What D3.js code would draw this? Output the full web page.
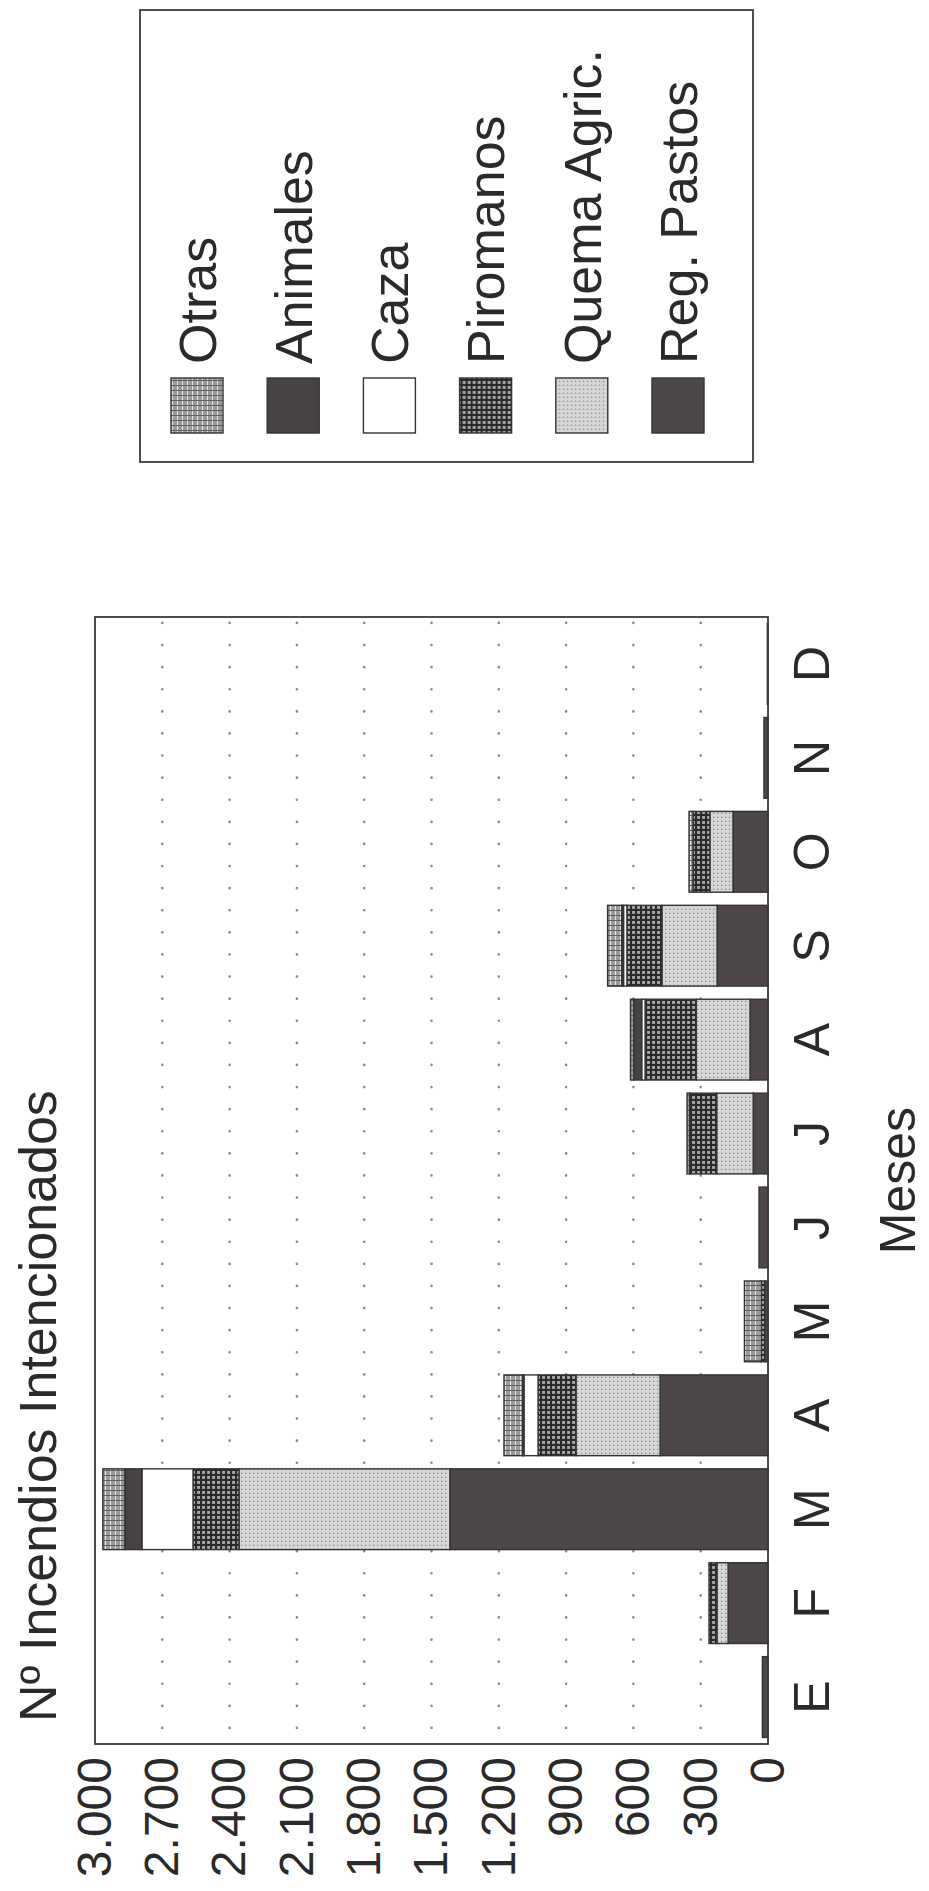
<!DOCTYPE html>
<html>
<head>
<meta charset="utf-8">
<script src="https://cdn.jsdelivr.net/npm/d3@7"></script>
<style>
  body { margin: 0; background: #fff; }
  svg { display: block; font-family: "Liberation Sans", Arial, sans-serif; }
</style>
</head>
<body>
<script>
// months (Spanish initials) and stacked series, stacked from the axis outward
const monthKeys = ["ene","feb","mar","abr","may","jun","jul","ago","sep","oct","nov","dic"];
const monthLabels = ["E","F","M","A","M","J","J","A","S","O","N","D"];
const causes = ["Reg. Pastos","Quema Agric.","Piromanos","Caza","Animales","Otras"];

const regPastos   = [25, 178, 1418, 481, 15, 40,  66,  80, 227, 156, 18, 3];
const quemaAgric  = [0,   50,  940, 375,  0,  0, 163, 240, 246, 103,  0, 0];
const piromanos   = [0,   35,  205, 169, 15,  0, 120, 228, 156,  75,  0, 0];
const caza        = [0,    0,  228,  63,  0,  0,   0,  15,  15,   0,  0, 0];
const animales    = [0,    0,   76,   5,  0,  0,   0,  35,   8,   0,  0, 0];
const otras       = [0,    0,   98,  84, 75,  0,  12,  15,  63,  18,  0, 0];

const yTicks = [0,300,600,900,1200,1500,1800,2100,2400,2700,3000];
const legendOrder = ["Otras","Animales","Caza","Piromanos","Quema Agric.","Reg. Pastos"];

const series = [regPastos, quemaAgric, piromanos, caza, animales, otras];
const table = monthKeys.map((m, i) => {
  const row = {month: m};
  causes.forEach((c, j) => row[c] = series[j][i]);
  return row;
});

const W = 929, H = 1891;
// the whole chart is drawn upright in a 1891 x 929 frame and turned a quarter left
const IW = H, IH = W;
const margin = {left: 147, right: IW - 1274, top: 95, bottom: IH - 768};

const svg = d3.select("body").append("svg")
  .attr("width", W).attr("height", H);

const defs = svg.append("defs");

function pattern(id, size, bg, draw) {
  const p = defs.append("pattern").attr("id", id)
    .attr("patternUnits", "userSpaceOnUse")
    .attr("width", size).attr("height", size);
  p.append("rect").attr("width", size).attr("height", size).attr("fill", bg);
  draw(p, size);
}
pattern("p-otras", 5, "#9a9a9a", (p, s) => {
  p.append("line").attr("x1", 0).attr("x2", s).attr("y1", 0.5).attr("y2", 0.5)
    .attr("stroke", "#e6e6e6").attr("stroke-width", 1);
  p.append("line").attr("x1", 0.5).attr("x2", 0.5).attr("y1", 0).attr("y2", s)
    .attr("stroke", "#5e5e5e").attr("stroke-width", 1);
});
pattern("p-piro", 5, "#a8a8a8", (p, s) => {
  p.append("line").attr("x1", 0).attr("x2", s).attr("y1", 1).attr("y2", 1)
    .attr("stroke", "#2a2a2a").attr("stroke-width", 2.2);
  p.append("line").attr("x1", 1).attr("x2", 1).attr("y1", 0).attr("y2", s)
    .attr("stroke", "#2a2a2a").attr("stroke-width", 2.2);
});
pattern("p-quema", 4, "#d6d6d6", (p, s) => {
  p.append("rect").attr("x", 1).attr("y", 1).attr("width", 1.3).attr("height", 1.3)
    .attr("fill", "#8a8a8a");
});

const fills = {
  "Reg. Pastos": "#4e474a",
  "Quema Agric.": "url(#p-quema)",
  "Piromanos": "url(#p-piro)",
  "Caza": "#ffffff",
  "Animales": "#484245",
  "Otras": "url(#p-otras)"
};

const g = svg.append("g")
  .attr("transform", `translate(0,${H}) rotate(-90)`);

const x = d3.scaleBand()
  .domain(monthKeys)
  .range([margin.left, IW - margin.right])
  .paddingInner(0.14)
  .paddingOuter(0.07);

const y = d3.scaleLinear()
  .domain([0, 3000])
  .range([IH - margin.bottom, margin.top]);

const es = d3.formatLocale({decimal: ",", thousands: ".", grouping: [3], currency: ["", "€"]});
const fmt = es.format(",");

// dotted grid
g.append("g")
  .selectAll("line")
  .data(yTicks.filter(d => d > 0 && d < 3000))
  .enter()
  .append("line")
  .attr("x1", margin.left + 16)
  .attr("x2", IW - margin.right)
  .attr("y1", d => y(d))
  .attr("y2", d => y(d))
  .attr("stroke", "#8a8a8a")
  .attr("stroke-width", 2.6)
  .attr("stroke-linecap", "round")
  .attr("stroke-dasharray", "0.1 22");

// stacked bars
const stacked = d3.stack().keys(causes)(table);
g.append("g")
  .selectAll("g")
  .data(stacked)
  .enter()
  .append("g")
  .attr("fill", d => fills[d.key])
  .selectAll("rect")
  .data(d => d.filter(p => p[1] - p[0] > 0))
  .enter()
  .append("rect")
  .attr("x", d => x(d.data.month))
  .attr("width", x.bandwidth())
  .attr("y", d => y(d[1]))
  .attr("height", d => y(d[0]) - y(d[1]))
  .attr("stroke", "#333")
  .attr("stroke-width", 1.4);

// frame
g.append("rect")
  .attr("x", margin.left).attr("y", margin.top)
  .attr("width", IW - margin.left - margin.right)
  .attr("height", IH - margin.top - margin.bottom)
  .attr("fill", "none")
  .attr("stroke", "#3a3a3a")
  .attr("stroke-width", 1.8);

// value axis
const yAxis = d3.axisLeft(y).tickValues(yTicks).tickFormat(fmt).tickSize(0).tickPadding(13);
g.append("g")
  .attr("transform", `translate(${margin.left},0)`)
  .call(yAxis)
  .call(s => s.select(".domain").remove())
  .selectAll("text")
  .attr("font-size", 48)
  .attr("font-family", "Liberation Sans, Arial, sans-serif")
  .attr("fill", "#2a2a2a");

// month axis
const xAxis = d3.axisBottom(x).tickFormat((d, i) => monthLabels[i]).tickSize(0).tickPadding(25);
g.append("g")
  .attr("transform", `translate(0,${IH - margin.bottom})`)
  .call(xAxis)
  .call(s => s.select(".domain").remove())
  .selectAll("text")
  .attr("font-size", 50)
  .attr("font-family", "Liberation Sans, Arial, sans-serif")
  .attr("fill", "#2a2a2a");

g.append("text")
  .attr("x", (margin.left + IW - margin.right) / 2)
  .attr("y", 915)
  .attr("text-anchor", "middle")
  .attr("font-size", 50)
  .attr("fill", "#2a2a2a")
  .text("Meses");

g.append("text")
  .attr("x", 169)
  .attr("y", 56)
  .attr("font-size", 52)
  .attr("fill", "#2a2a2a")
  .text("Nº Incendios Intencionados");

// legend
const leg = g.append("g");
leg.append("rect")
  .attr("x", 1429).attr("y", 140)
  .attr("width", 452).attr("height", 613)
  .attr("fill", "none")
  .attr("stroke", "#3a3a3a")
  .attr("stroke-width", 1.8);

const rowY = d3.scalePoint().domain(legendOrder).range([197, 678]);
const item = leg.selectAll("g.item")
  .data(legendOrder)
  .enter()
  .append("g")
  .attr("class", "item")
  .attr("transform", d => `translate(0,${rowY(d)})`);
item.append("rect")
  .attr("x", 1458).attr("y", -26)
  .attr("width", 55).attr("height", 52)
  .attr("fill", d => fills[d])
  .attr("stroke", "#333")
  .attr("stroke-width", 1.4);
item.append("text")
  .attr("x", 1527)
  .attr("y", 0)
  .attr("dy", "0.36em")
  .attr("font-size", 52)
  .attr("fill", "#2a2a2a")
  .text(d => d);
</script>
</body>
</html>
